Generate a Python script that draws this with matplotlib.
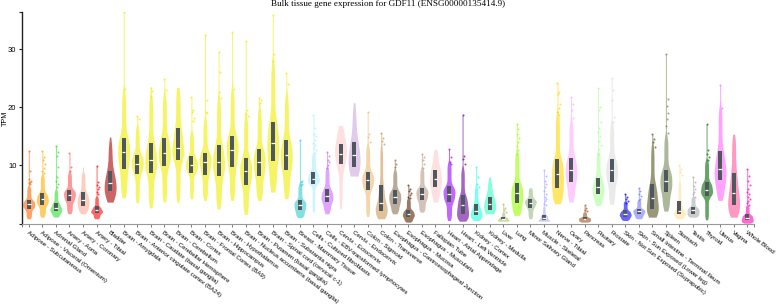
import numpy as np
import matplotlib
matplotlib.use("Agg")
import matplotlib.pyplot as plt

tissues = [
    "Adipose - Subcutaneous", "Adipose - Visceral (Omentum)", "Adrenal Gland",
    "Artery - Aorta", "Artery - Coronary", "Artery - Tibial", "Bladder",
    "Brain - Amygdala", "Brain - Anterior cingulate cortex (BA24)",
    "Brain - Caudate (basal ganglia)", "Brain - Cerebellar Hemisphere",
    "Brain - Cerebellum", "Brain - Cortex", "Brain - Frontal Cortex (BA9)",
    "Brain - Hippocampus", "Brain - Hypothalamus",
    "Brain - Nucleus accumbens (basal ganglia)", "Brain - Putamen (basal ganglia)",
    "Brain - Spinal cord (cervical c-1)", "Brain - Substantia nigra",
    "Breast - Mammary Tissue", "Cells - Cultured fibroblasts",
    "Cells - EBV-transformed lymphocytes", "Cervix - Ectocervix",
    "Cervix - Endocervix", "Colon - Sigmoid", "Colon - Transverse",
    "Esophagus - Gastroesophageal Junction", "Esophagus - Mucosa",
    "Esophagus - Muscularis", "Fallopian Tube", "Heart - Atrial Appendage",
    "Heart - Left Ventricle", "Kidney - Cortex", "Kidney - Medulla", "Liver",
    "Lung", "Minor Salivary Gland", "Muscle - Skeletal", "Nerve - Tibial",
    "Ovary", "Pancreas", "Pituitary", "Prostate",
    "Skin - Not Sun Exposed (Suprapubic)", "Skin - Sun Exposed (Lower leg)",
    "Small Intestine - Terminal Ileum", "Spleen", "Stomach", "Testis",
    "Thyroid", "Uterus", "Vagina", "Whole Blood",
]

colors = [
    "#FF6600", "#FFAA00", "#33DD33", "#FF5555", "#FFAA99", "#FF0000", "#AA0000",
    "#EEEE00", "#EEEE00", "#EEEE00", "#EEEE00", "#EEEE00", "#EEEE00", "#EEEE00",
    "#EEEE00", "#EEEE00", "#EEEE00", "#EEEE00", "#EEEE00", "#EEEE00",
    "#33CCCC", "#AAEEFF", "#CC66FF", "#FFCCCC", "#CCAADD", "#EEBB77", "#CC9955",
    "#8B7355", "#552200", "#BB9988", "#FFCCCC", "#9900FF", "#660099", "#22FFDD",
    "#33FFC2", "#AABB66", "#99FF00", "#99BB88", "#AAAAFF", "#FFD700", "#FFAAFF",
    "#995522", "#AAFF99", "#DDDDDD", "#0000FF", "#7777FF", "#555522", "#778855",
    "#FFDD99", "#AAAAAA", "#006600", "#FF66FF", "#FF5599", "#FF00BB",
]

n_samples = [663, 541, 258, 432, 240, 663, 21, 152, 176, 246, 215, 241, 255, 209,
             197, 202, 246, 205, 159, 139, 459, 504, 174, 9, 10, 373, 406, 375,
             555, 515, 9, 429, 432, 85, 4, 226, 578, 162, 803, 619, 180, 328, 283,
             245, 604, 701, 187, 241, 359, 361, 653, 142, 156, 755]

vmin = [0.81, 1.09, 1.09, 1.67, 1.67, 0.81, 3.68, 4.43, 3.57, 2.7, 3.68, 3.68,
        4.25, 3.97, 2.53, 3.97, 1.55, 3.97, 5.4, 4.25, 1.0, 1.95, 1.67, 2.53,
        8.16, 1.2, 0.81, 1.67, 0.23, 1.95, 3.68, 0.52, 0.4, 0.52, 1.67, 0.4,
        1.38, 0.81, 0.4, 3.39, 3.68, 0.23, 3.1, 3.28, 0.52, 0.81, 1.09, 2.13,
        0.81, 1.09, 0.63, 3.97, 1.09, 0.06]

q1 = [2.53, 3.16, 2.07, 3.8, 3.05, 1.78, 5.52, 9.43, 8.45, 8.68, 9.89, 11.0,
      8.74, 8.39, 8.16, 9.72, 6.67, 8.16, 10.75, 9.26, 2.24, 6.72, 3.68, 10.17,
      9.72, 5.81, 2.13, 3.39, 1.09, 3.97, 6.27, 3.68, 1.67, 1.38, 2.36, 0.52,
      3.57, 2.7, 0.52, 6.15, 7.13, 0.52, 5.0, 7.13, 1.2, 1.55, 2.53, 5.4, 1.67,
      1.67, 4.66, 7.42, 3.1, 0.52]

med = [3.28, 4.14, 2.64, 4.89, 4.08, 2.24, 6.96, 12.3, 10.3, 11.0, 12.13, 13.05,
       10.06, 10.6, 10.6, 12.7, 9.03, 10.6, 13.9, 11.73, 3.16, 7.7, 4.72, 12.0,
       11.84, 7.42, 3.57, 4.54, 1.67, 5.12, 7.7, 5.12, 3.1, 2.07, 3.39, 0.81,
       5.23, 3.57, 1.0, 8.57, 9.14, 0.81, 6.27, 9.14, 1.67, 2.07, 4.43, 7.3,
       2.13, 2.24, 5.8, 9.43, 5.29, 1.0]

q3 = [4.08, 5.23, 3.56, 5.81, 5.35, 2.93, 9.03, 14.77, 11.73, 13.9, 14.77, 16.4,
      11.55, 12.19, 13.45, 15.0, 11.27, 12.76, 17.5, 14.43, 4.0, 8.85, 6.0,
      13.74, 14.0, 8.85, 6.55, 5.69, 2.36, 6.15, 9.26, 6.38, 4.83, 3.39, 4.54,
      1.09, 7.0, 4.14, 1.5, 11.15, 11.3, 1.09, 7.87, 11.15, 2.24, 2.53, 6.84,
      9.26, 3.85, 2.82, 7.13, 12.47, 8.68, 1.55]

vmax = [12.47, 12.5, 13.45, 12.1, 9.7, 9.9, 14.88, 36.4, 18.5, 23.5, 24.9, 23.4,
        21.8, 32.5, 29.5, 32.9, 31.4, 21.6, 35.9, 25.9, 14.3, 18.6, 12.3, 16.9,
        20.8, 19.2, 15.6, 10.9, 6.55, 12.0, 12.76, 12.76, 18.7, 9.7, 8.0, 3.28,
        17.2, 6.15, 9.14, 24.2, 21.8, 3.1, 23.4, 25.06, 5.12, 6.15, 15.35, 29.25,
        10.0, 8.0, 17.07, 23.8, 15.35, 9.43]

outliers = [
    [12.5, 9.0, 7.7, 7.4, 7.2, 7.0, 6.8],
    [12.5, 11.4, 10.9, 10.3, 9.5, 9.1, 8.7],
    [13.4, 12.3, 11.6, 9.8, 8.0, 7.4, 6.8, 6.2],
    [12.1, 9.7, 9.0],
    [],
    [9.9, 7.1, 6.7, 6.3, 5.9, 5.5, 5.0],
    [],
    [36.4, 23.1],
    [18.5, 18.0],
    [23.4, 22.8, 21.8],
    [24.9, 22.9],
    [],
    [21.8, 19.6, 19.2, 18.2, 17.6],
    [32.5, 21.2, 19.2, 19.0],
    [29.5, 26.1, 22.6, 21.6],
    [32.9, 23.1],
    [31.4, 19.6, 18.9, 18.45],
    [21.6, 21.2, 20.75],
    [35.9, 29.25, 27.9],
    [25.9, 24.0],
    [14.3, 7.4, 7.1, 6.8, 6.6],
    [18.6, 16.5, 15.4, 15.0, 14.4, 13.9, 13.5, 13.0, 12.6, 12.2],
    [12.3, 11.6, 11.0, 10.5, 10.0, 9.6],
    [],
    [],
    [19.2, 15.46, 14.9, 14.0],
    [15.6, 14.8, 14.2, 13.7],
    [10.9, 10.3, 9.7],
    [6.55, 6.0, 5.6, 5.2, 4.9, 4.6, 4.4],
    [12.0, 11.4, 10.9, 10.2, 9.6],
    [],
    [12.76, 11.4, 10.6, 10.3],
    [18.7, 11.7, 11.15, 10.3],
    [9.7, 8.0, 6.8, 6.3],
    [],
    [3.28, 2.6, 2.3, 2.0],
    [17.2, 16.2, 15.4, 14.8, 14.0, 13.3, 12.6, 12.0],
    [],
    [9.14, 8.2, 7.4, 6.8, 6.2, 5.6, 5.0, 4.6, 4.2, 3.8, 3.4, 3.1],
    [24.2, 22.6, 22.3, 20.6, 19.8, 19.2, 18.6],
    [21.8, 20.5, 19.5, 18.2],
    [3.1, 2.7, 2.4, 2.1],
    [23.4, 20.1, 19.6, 17.5, 16.5, 15.7, 15.0, 14.2, 13.5, 12.8, 12.0],
    [25.06, 22.9, 21.2, 18.3, 17.5],
    [5.12, 4.6, 4.2, 3.9, 3.6],
    [6.15, 5.6, 5.1, 4.7, 4.3, 4.0],
    [15.35, 14.6, 14.0, 13.2],
    [29.25, 21.5, 20.3, 19.1, 17.9, 16.8, 15.5],
    [10.0, 9.4, 8.8, 8.3],
    [8.0, 7.1, 6.5, 6.0, 5.5, 5.0, 4.6],
    [17.07, 12.6, 12.0, 11.4, 10.9],
    [23.8, 19.95],
    [],
    [9.43, 8.1, 7.3, 6.6, 6.0, 5.5, 5.0, 4.6, 4.2, 3.8, 3.5, 3.2],
]

title = "Bulk tissue gene expression for GDF11 (ENSG00000135414.9)"
y_label = "TPM"
y_ticks = [0, 10, 20, 30]
y_ticklabels = ["", "10", "20", "30"]
y_top = 36.4

W, H = 778, 306
fig = plt.figure(figsize=(W / 100, H / 100), dpi=100)
ax = fig.add_axes([22 / W, (H - 223.5) / H, (754 - 22) / W, (223.5 - 12) / H])


def profile(i):
    lo, a, m, b, top = vmin[i], q1[i], med[i], q3[i], vmax[i]
    iqr = b - a
    hi = min(top, b + 1.5 * iqr)
    p = np.linspace(0, 1, 201)
    body = np.interp(p, [0, .25, .5, .75, 1], [lo, a, m, b, hi])
    pts = np.concatenate([body, np.asarray(outliers[i], float)])
    sd = min(body.std(), iqr / 1.34)
    h = 0.9 * sd * n_samples[i] ** -0.2
    yy = np.linspace(lo, top, 400)
    d = np.exp(-0.5 * ((yy[:, None] - pts[None, :]) / h) ** 2).sum(1)
    w = 0.44 * d / d.max()
    w = np.maximum(w, 0.035)
    return yy, w


offs = [0.0, 0.12, 0.05, 0.18, 0.09]
for i, t in enumerate(tissues):
    yy, w = profile(i)
    ax.fill_betweenx(yy, i - w, i + w, color=colors[i], alpha=0.6, lw=0, zorder=1)
    ax.add_patch(plt.Rectangle((i - 0.15, q1[i]), 0.3, q3[i] - q1[i],
                               facecolor="#4e585e", edgecolor="none", zorder=3))
    ax.plot([i - 0.13, i + 0.13], [med[i], med[i]], color="white", lw=0.9,
            zorder=4, solid_capstyle="butt")
    if outliers[i]:
        ox = [i + offs[k % len(offs)] for k in range(len(outliers[i]))]
        ax.scatter(ox, outliers[i], s=2.2, color=colors[i], alpha=0.7,
                   lw=0, zorder=2)

ax.set_xlim(-0.5, len(tissues) - 0.5)
ax.set_ylim(0, y_top)
for s in ["top", "right"]:
    ax.spines[s].set_visible(False)
ax.spines["left"].set_color("#222222")
ax.spines["left"].set_linewidth(1.0)
ax.spines["bottom"].set_color("#999999")
ax.spines["bottom"].set_linewidth(0.8)

ax.set_yticks(y_ticks)
ax.set_yticklabels(y_ticklabels, fontsize=5.5, fontfamily="Liberation Sans")
ax.set_yticks([y_top], minor=True)
ax.tick_params(axis="y", which="both", length=2.5, width=0.8, pad=1.5,
               color="#222222")

ax.set_xticks(range(len(tissues)))
ax.set_xticklabels(tissues, rotation=-37, ha="left", va="top",
                   rotation_mode="anchor", fontsize=4.4,
                   fontfamily="Liberation Sans")
ax.set_xticks([-0.5, len(tissues) - 0.5], minor=True)
ax.tick_params(axis="x", which="both", length=2.5, width=0.6, pad=2,
               color="#666666")

fig.text(388 / W, 1 - 4.5 / H, title, ha="center", va="center",
         fontfamily="Liberation Serif", fontsize=6.6)
fig.text(5 / W, 1 - 118 / H, y_label, ha="center", va="center", rotation=90,
         fontsize=5.2, fontfamily="Liberation Sans")

fig.savefig("out.png", dpi=100)
